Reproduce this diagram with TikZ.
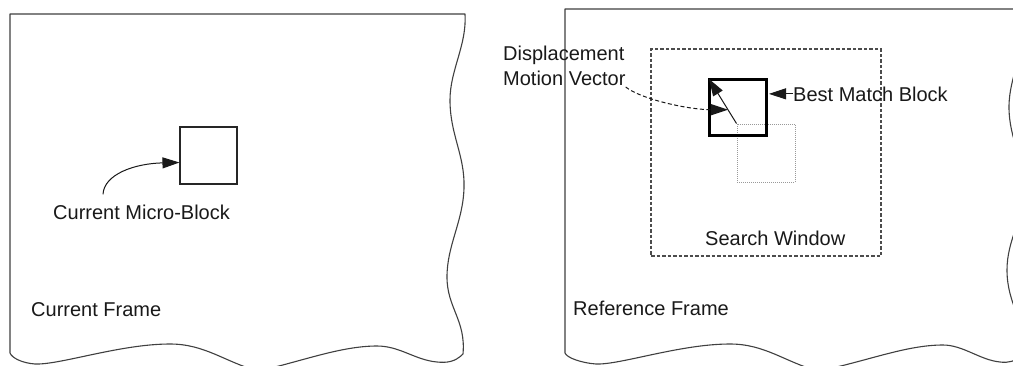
\documentclass[tikz,border=0pt]{standalone}
\usepackage{fontspec}
\setmainfont{Liberation Sans}
\usetikzlibrary{arrows.meta,calc}
\begin{document}
\begin{tikzpicture}[x=1pt,y=-1pt,
  frameline/.style={draw=black!75,line width=1.1pt,line join=round},
  lbl/.style={inner sep=0pt,anchor=base west,font=\fontsize{20}{24}\selectfont,text=black!90},
  blockbox/.style={draw=black!85,line width=1.1pt,inner sep=0pt,minimum width=57pt,minimum height=57pt},
  boldbox/.style={draw=black,line width=3pt,inner sep=0pt,minimum width=57pt,minimum height=56pt},
  dotbox/.style={draw=black!40,line width=1pt,dash pattern=on 1pt off 1pt,inner sep=0pt,minimum width=58pt,minimum height=58pt},
  winbox/.style={draw=black!70,line width=1.1pt,dash pattern=on 3.5pt off 2pt,inner sep=0pt,minimum width=230pt,minimum height=207pt},
  tip/.style={-{Triangle[length=17pt,width=11pt]}},
  conn/.style={draw=black!90,line width=1pt}
]
\useasboundingbox (0,0) rectangle (1013,365);
\fill[white] (0,0) rectangle (1013,365);
\clip (0,0) rectangle (1013,365);

% ---------- Current frame ----------
\draw[frameline] (10,14) -- (465,14)
  .. controls (467,45) and (450,70) .. (450,100)
  .. controls (450,135) and (465,155) .. (464,188)
  .. controls (463,222) and (447,245) .. (447,277)
  .. controls (447,308) and (466,320) .. (463,354)
  .. controls (455,362) and (447,363) .. (437,362)
  .. controls (415,360) and (400,346) .. (377,346)
  .. controls (340,346) and (300,362) .. (258,371)
  .. controls (225,362) and (205,344) .. (170,344)
  .. controls (120,344) and (60,365) .. (35,364)
  .. controls (22,363) and (12,358) .. (10,353)
  -- cycle;

\node[blockbox] (cur) at (208.5,155.5) {};
\node[lbl] (curlbl) at (53,219) {Current Micro-Block};
\coordinate (curstart) at ($(curlbl.north west)+(50,-10)$);
\draw[conn,tip] (curstart) .. controls +(1,-20) and +(-45,1) .. ([yshift=-7pt]cur.west);
\node[lbl] (curframe) at (31,316) {Current Frame};

% ---------- Reference frame ----------
\draw[frameline] (565,9) -- (1025,9)
  .. controls (1027,50) and (1009,75) .. (1009,107)
  .. controls (1009,140) and (1025,160) .. (1024,190)
  .. controls (1023,220) and (1007,240) .. (1007,270)
  .. controls (1007,305) and (1026,320) .. (1023,354)
  .. controls (1015,362) and (1008,363) .. (1000,362)
  .. controls (980,360) and (963,345) .. (943,345)
  .. controls (905,345) and (865,362) .. (818,371)
  .. controls (785,362) and (765,344) .. (730,344)
  .. controls (680,344) and (620,365) .. (596,364)
  .. controls (582,363) and (567,358) .. (565,353)
  -- cycle;

\node[winbox] (win) at (766,152.5) {};
\node[dotbox] (orig) at (766,153) {};
\node[boldbox] (best) at (737.5,107) {};

\node[lbl] (win lbl) at (705,245) {Search Window};
\node[lbl] (reflbl) at (573,315) {Reference Frame};
\node[lbl] (bestlbl) at (793,101) {Best Match Block};
\node[lbl] (disp) at (503,60) {Displacement};
\node[lbl] (mv) at (503,85) {Motion Vector};

% motion vector
\draw[conn,tip] (orig.north west) -- ([shift={(1.5,1.5)}]best.north west);
\coordinate (mvp) at ($(orig.north west)!0.31!([shift={(1.5,1.5)}]best.north west)$);
% dashed pointer
\draw[conn,dash pattern=on 4pt off 2.5pt,tip] ([yshift=-2pt]mv.base east) .. controls +(15,12) and +(-40,0) .. (mvp);
% best match pointer
\draw[conn,tip] (bestlbl.west) -- ([xshift=1.5pt]best.east |- bestlbl.west);
\end{tikzpicture}
\end{document}
